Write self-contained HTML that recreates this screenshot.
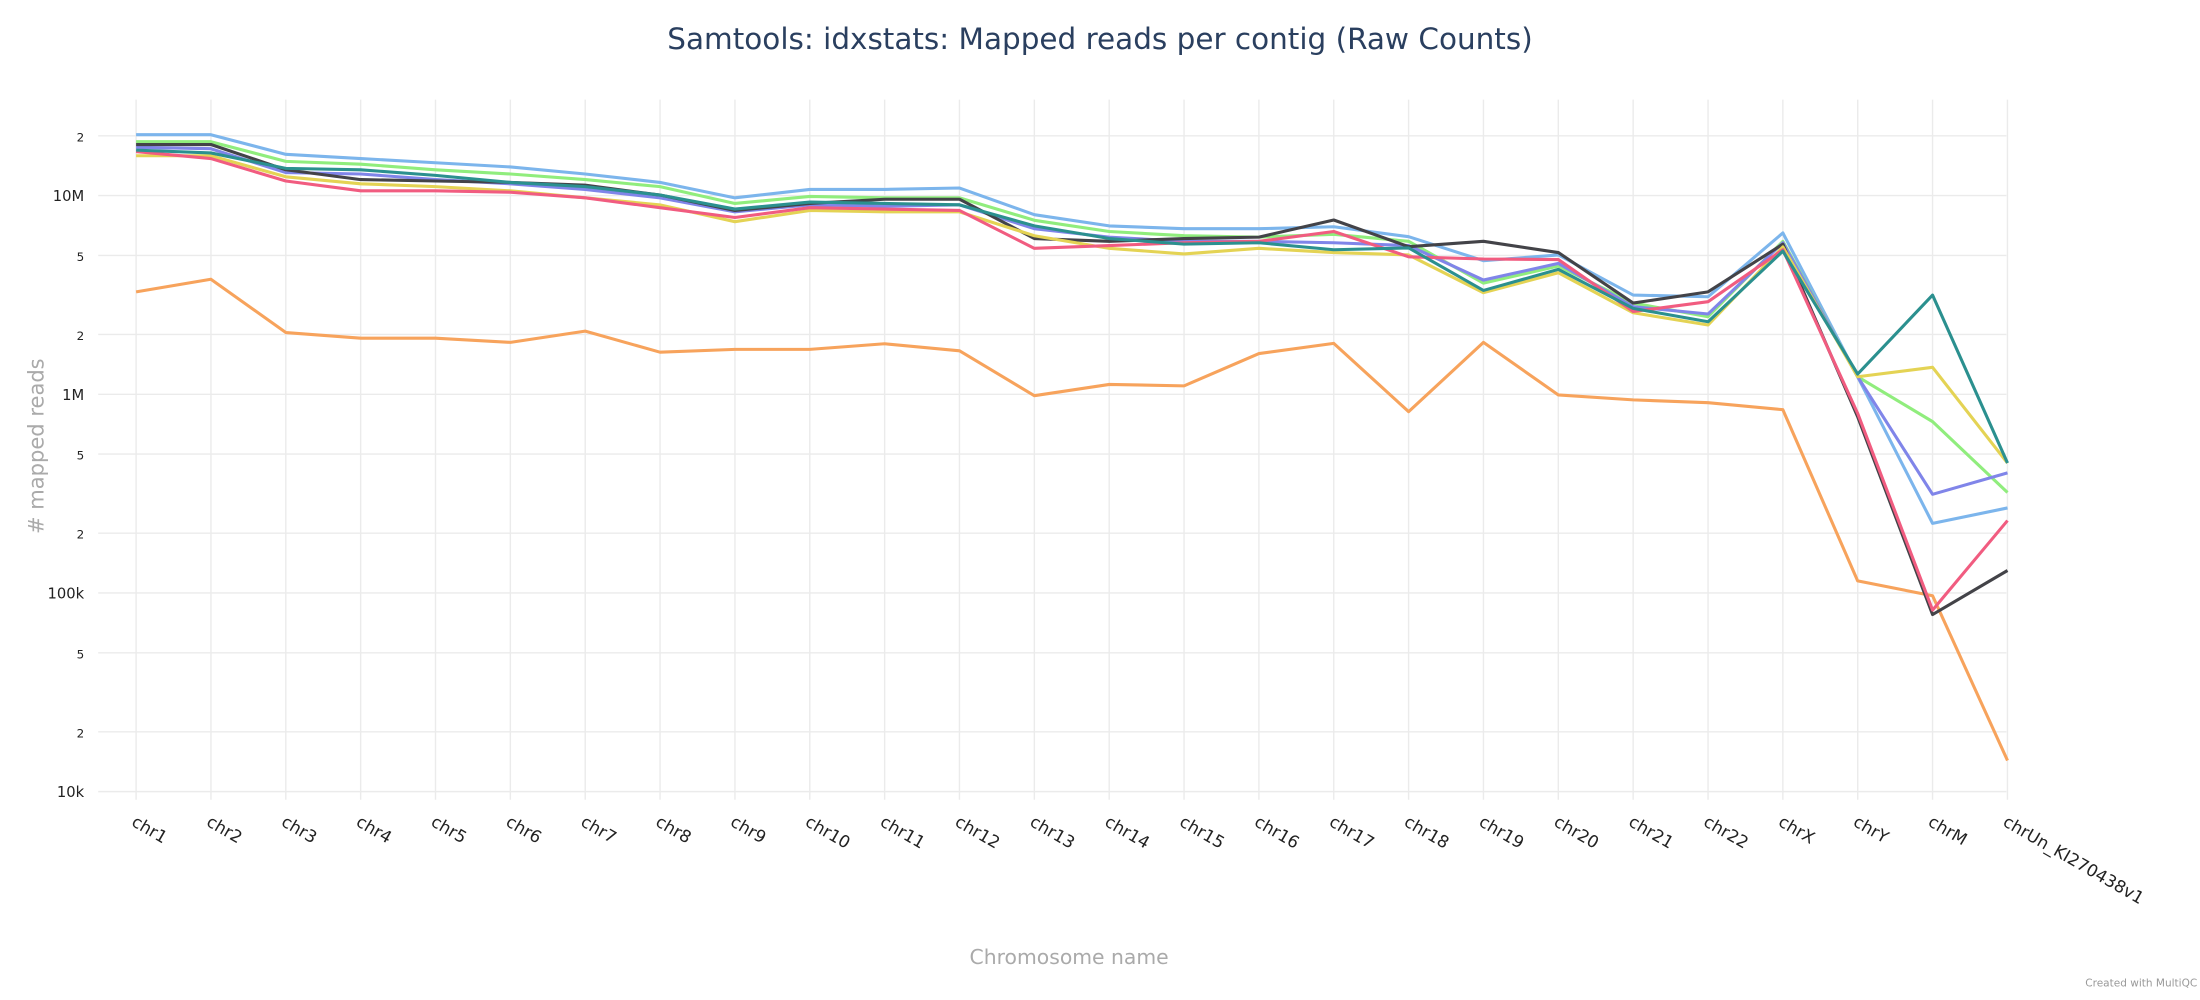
<!DOCTYPE html>
<html><head><meta charset="utf-8"><style>
html,body{margin:0;padding:0;background:#fff;}
svg{display:block;}
text{font-family:"DejaVu Sans","Liberation Sans",sans-serif;}
</style></head><body>
<svg width="2200" height="1000" viewBox="0 0 1568 712.7" preserveAspectRatio="none" xmlns="http://www.w3.org/2000/svg">
<text x="784" y="35" text-anchor="middle" font-size="21" fill="#2a3f5f">Samtools: idxstats: Mapped reads per contig (Raw Counts)</text>
<g id="grid" stroke="#ebebeb" stroke-width="1"></g>
<g id="ylab" font-size="10.5" fill="#222" text-anchor="end"></g>
<g id="series" fill="none" stroke-width="2.2" stroke-linejoin="round"></g>
<g id="xlab" font-size="12" fill="#222"></g>
<text transform="translate(31,318) rotate(-90)" text-anchor="middle" font-size="15" fill="#aaa"># mapped reads</text>
<text x="762" y="687" text-anchor="middle" font-size="14.5" fill="#aaa">Chromosome name</text>
<text x="1566" y="703" text-anchor="end" font-size="7.5" fill="#999">Created with MultiQC</text>
</svg>
<script>
var ns="http://www.w3.org/2000/svg";
function el(t,a,p,txt){var e=document.createElementNS(ns,t);for(var k in a)e.setAttribute(k,a[k]);if(txt)e.textContent=txt;document.getElementById(p).appendChild(e);return e;}
function Y(v){return 281-Math.log10(v/1e6)*141.6;}
function X(i){return 97+53.35*i;}
var ticks=[[1e4,"10k",1],[2e4,"2",0],[5e4,"5",0],[1e5,"100k",1],[2e5,"2",0],[5e5,"5",0],[1e6,"1M",1],[2e6,"2",0],[5e6,"5",0],[1e7,"10M",1],[2e7,"2",0]];
ticks.forEach(function(t){var y=Y(t[0]);el("line",{x1:70,x2:1430,y1:y,y2:y},"grid");
 var e=el("text",{x:60,y:y+4},"ylab",t[1]);if(!t[2])e.setAttribute("font-size","8.5");});
var names=["chr1","chr2","chr3","chr4","chr5","chr6","chr7","chr8","chr9","chr10","chr11","chr12","chr13","chr14","chr15","chr16","chr17","chr18","chr19","chr20","chr21","chr22","chrX","chrY","chrM","chrUn_KI270438v1"];
names.forEach(function(n,i){var x=X(i);el("line",{x1:x,x2:x,y1:71,y2:570},"grid");
 el("text",{transform:"translate("+(x-4)+",588) rotate(30)"},"xlab",n);});
var S=[
["#f7a35c",[208,199,237,241,241,244,236,251,249,249,245,250,282,274,275,252,244.7,293.4,244,281.5,285,287,292,414,424.6,542]],
["#7cb5ec",[96,96,110,113,116,119,124,130,141,135,135,134,153,161,163,163,161.6,168.7,185.8,181.7,210.3,211.5,166,268.5,373,362]],
["#90ed7d",[101,101,115,117,121,124,128,133,145,140,141,141,157,165,168,169,167,172,201.8,189.6,216,225.7,172,268.5,300.5,351]],
["#8085e9",[105,106,123,124,128,131,135,141,151,146,147,146,163,169,172,172,173,175,199.6,187.7,218.6,223.8,173,268.5,352.3,337]],
["#434348",[103,103,121,128,129,130,132,139,150,145,142,142,170,172,170,169,156.8,175.8,172,180,216,208,174,297,438,406.6]],
["#e4d354",[111,111,126,131,133,136,141,146,158,150,151,151,168,177,181,177,180,181.7,208.6,194.4,222.9,231.6,176,268.5,261.8,330]],
["#f15c80",[108,113,129,136,136,137,141,148,155,148,149,150,177,175,173,172,165,183,184.6,185,222,215,178,294.6,434.8,371]],
["#2b908f",[107,109,120,121,125,130,133,139,149,144,145,146,161,170,174,173,178,176.7,207,192,219.8,229.3,179,266.6,210.3,330]]
];
S.forEach(function(s){var p=s[1].map(function(y,i){return X(i).toFixed(1)+","+y;}).join(" ");
 el("polyline",{points:p,stroke:s[0]},"series");});
</script>
</body></html>
